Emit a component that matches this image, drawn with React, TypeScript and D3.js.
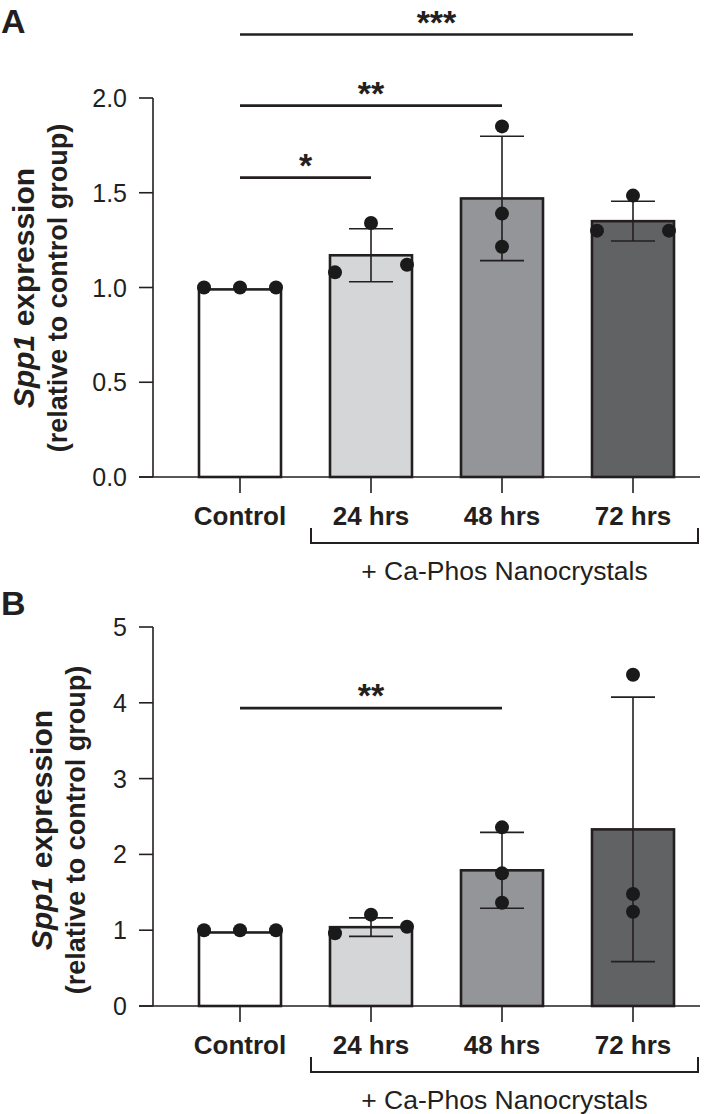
import React from "react";
import * as d3 from "d3";

const categories = ["Control", "24 hrs", "48 hrs", "72 hrs"];
const fills = ["#ffffff", "#d5d6d8", "#939598", "#616264"];

// Panel A
const meanA = [0.99, 1.17, 1.47, 1.35];
const sdA = [0, 0.14, 0.328, 0.105];
const pointsA = [
  [1.0, 1.0, 1.0],
  [1.08, 1.34, 1.12],
  [1.85, 1.39, 1.215],
  [1.3, 1.485, 1.3],
];
const ticksA = [0, 0.5, 1.0, 1.5, 2.0];
const sigA = [
  { to: "24 hrs", y: 1.58, label: "*" },
  { to: "48 hrs", y: 1.96, label: "**" },
  { to: "72 hrs", y: 2.335, label: "***" },
];

// Panel B
const meanB = [0.97, 1.04, 1.79, 2.33];
const sdB = [0, 0.122, 0.5, 1.745];
const pointsB = [
  [1.0, 1.0, 1.0],
  [0.96, 1.205, 1.046],
  [2.357, 1.75, 1.363],
  [4.37, 1.478, 1.244],
];
const ticksB = [0, 1, 2, 3, 4, 5];
const sigB = [{ to: "48 hrs", y: 3.93, label: "**" }];

const FONT = "'Liberation Sans', Arial, Helvetica, sans-serif";
const INK = "#231f20";

type Sig = { to: string; y: number; label: string };

function Panel(props: {
  letter: string;
  letterY: number;
  yMax: number;
  top: number;
  bottom: number;
  ticks: number[];
  fmt: (v: number) => string;
  means: number[];
  sds: number[];
  points: number[][];
  sigs: Sig[];
  title1X: number;
  title2X: number;
  titleCy: number;
}) {
  const { top, bottom } = props;
  const y = d3.scaleLinear().domain([0, props.yMax]).range([bottom, top]);
  const x = d3.scalePoint<string>().domain(categories).range([240, 633]);
  const axisX = 153;
  const barW = 82;
  const capW = 22;
  const r = 7;
  const spread = 36;

  const dotX = (ci: number, vals: number[]) => {
    const px = vals.map((v) => y(v));
    let collide = false;
    for (let i = 0; i < px.length; i++)
      for (let j = i + 1; j < px.length; j++)
        if (Math.abs(px[i] - px[j]) < 2 * r) collide = true;
    const cx = x(categories[ci])!;
    return vals.map((_, i) => (collide ? cx + (i - 1) * spread : cx));
  };

  const bracketL = x("24 hrs")! - 60;
  const bracketR = x("72 hrs")! + 65;

  return (
    <g>
      <text x={1} y={props.letterY} fontFamily={FONT} fontWeight="bold" fontSize={34} fill={INK}>
        {props.letter}
      </text>
      {/* y title */}
      <text
        transform={`translate(${props.title1X},${props.titleCy}) rotate(-90)`}
        textAnchor="middle"
        fontFamily={FONT}
        fontWeight="bold"
        fontSize={30}
        fill={INK}
      >
        <tspan fontStyle="italic">Spp1</tspan>
        <tspan> expression</tspan>
      </text>
      <text
        transform={`translate(${props.title2X},${props.titleCy}) rotate(-90)`}
        textAnchor="middle"
        fontFamily={FONT}
        fontWeight="bold"
        fontSize={27}
        fill={INK}
      >
        (relative to control group)
      </text>
      {/* y axis */}
      <line x1={axisX} x2={axisX} y1={y(props.yMax)} y2={bottom} stroke={INK} strokeWidth={1.6} />
      {props.ticks.map((t) => (
        <g key={t}>
          <line x1={axisX - 14} x2={axisX} y1={y(t)} y2={y(t)} stroke={INK} strokeWidth={1.6} />
          <text
            x={axisX - 26}
            y={y(t)}
            dy="0.36em"
            textAnchor="end"
            fontFamily={FONT}
            fontSize={25}
            fill={INK}
          >
            {props.fmt(t)}
          </text>
        </g>
      ))}
      {/* bars */}
      {categories.map((c, i) => (
        <rect
          key={c}
          x={x(c)! - barW / 2}
          y={y(props.means[i])}
          width={barW}
          height={bottom - y(props.means[i])}
          fill={fills[i]}
          stroke={INK}
          strokeWidth={2.6}
        />
      ))}
      {/* x axis */}
      <line x1={axisX - 14} x2={700} y1={bottom} y2={bottom} stroke={INK} strokeWidth={1.6} />
      {categories.map((c) => (
        <g key={c}>
          <line x1={x(c)} x2={x(c)} y1={bottom} y2={bottom + 16} stroke={INK} strokeWidth={1.6} />
          <text
            x={x(c)}
            y={bottom + 48}
            textAnchor="middle"
            fontFamily={FONT}
            fontWeight="bold"
            fontSize={26}
            fill={INK}
          >
            {c}
          </text>
        </g>
      ))}
      {/* error bars */}
      {categories.map((c, i) =>
        props.sds[i] > 0 ? (
          <g key={c} stroke={INK} strokeWidth={1.6}>
            <line x1={x(c)} x2={x(c)} y1={y(props.means[i] - props.sds[i])} y2={y(props.means[i] + props.sds[i])} />
            <line
              x1={x(c)! - capW}
              x2={x(c)! + capW}
              y1={y(props.means[i] + props.sds[i])}
              y2={y(props.means[i] + props.sds[i])}
            />
            <line
              x1={x(c)! - capW}
              x2={x(c)! + capW}
              y1={y(props.means[i] - props.sds[i])}
              y2={y(props.means[i] - props.sds[i])}
            />
          </g>
        ) : null
      )}
      {/* points */}
      {props.points.map((vals, ci) => {
        const xs = dotX(ci, vals);
        return vals.map((v, j) => <circle key={`${ci}-${j}`} cx={xs[j]} cy={y(v)} r={r} fill="#1a1a1a" />);
      })}
      {/* significance */}
      {props.sigs.map((s) => {
        const x1 = x("Control")!;
        const x2 = x(s.to)!;
        return (
          <g key={s.label + s.to}>
            <line x1={x1} x2={x2} y1={y(s.y)} y2={y(s.y)} stroke={INK} strokeWidth={2.6} />
            <text
              x={(x1 + x2) / 2}
              y={y(s.y) - 1}
              textAnchor="middle"
              fontFamily={FONT}
              fontWeight="bold"
              fontSize={34}
              fill={INK}
            >
              {s.label}
            </text>
          </g>
        );
      })}
      {/* bracket */}
      <path
        d={`M${bracketL},${bottom + 51} V${bottom + 66} H${bracketR} V${bottom + 51}`}
        fill="none"
        stroke={INK}
        strokeWidth={2}
      />
      <text
        x={(bracketL + bracketR) / 2}
        y={bottom + 103}
        textAnchor="middle"
        fontFamily={FONT}
        fontSize={26.5}
        fill={INK}
      >
        + Ca-Phos Nanocrystals
      </text>
    </g>
  );
}

export default function App() {
  return (
    <svg
      width={725}
      height={1114}
      style={{ position: "absolute", left: 0, top: 0, background: "#fff" }}
    >
      <rect width={725} height={1114} fill="#fff" />
      <Panel
        letter="A"
        letterY={33}
        yMax={2}
        top={98}
        bottom={477}
        ticks={ticksA}
        fmt={d3.format(".1f")}
        means={meanA}
        sds={sdA}
        points={pointsA}
        sigs={sigA}
        title1X={34}
        title2X={67}
        titleCy={288}
      />
      <Panel
        letter="B"
        letterY={615}
        yMax={5}
        top={627}
        bottom={1006}
        ticks={ticksB}
        fmt={d3.format("d")}
        means={meanB}
        sds={sdB}
        points={pointsB}
        sigs={sigB}
        title1X={52}
        title2X={85}
        titleCy={830}
      />
    </svg>
  );
}
